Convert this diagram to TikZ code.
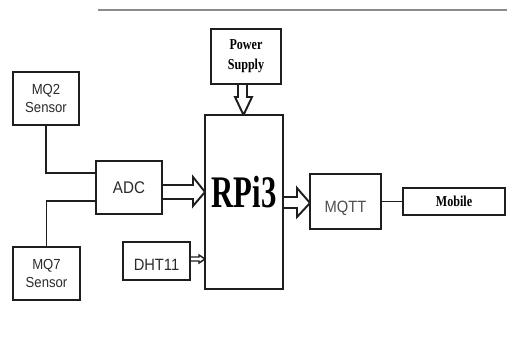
\documentclass[tikz,border=0pt]{standalone}
\usepackage{fontspec}
\setmainfont{Liberation Serif}
\newfontfamily\sansnarrow[FakeStretch=0.9]{Liberation Sans}
\newfontfamily\serifnarrow[FakeStretch=0.8]{Liberation Serif}
\newfontfamily\serifrpi[FakeStretch=0.68]{Liberation Serif}
\usetikzlibrary{calc}
\definecolor{boxline}{HTML}{1E1E1E}
\definecolor{labeltext}{HTML}{2B2B2B}
\definecolor{softtext}{HTML}{4E4E4E}
\definecolor{ruleline}{HTML}{8C8C8C}

\begin{document}
\begin{tikzpicture}[x=0.02cm, y=-0.02cm,
  blk/.style={draw=boxline, line width=1.1pt, fill=white, inner sep=0pt, text=labeltext, align=center},
  sensorbox/.style={blk, minimum width=1.33cm, minimum height=1.06cm, font=\sansnarrow\fontsize{8.3}{10.2}\selectfont},
  hollow/.style={draw=boxline, line width=1.1pt, fill=white, line join=miter},
  wire/.style={draw=boxline, line width=1.1pt}]
  \useasboundingbox (0,0) rectangle (507,342);

  % --- rule at the top ---
  \draw[ruleline, line width=0.6pt] (98,10) -- (507,10);

  % --- hollow arrows (under the boxes) ---
  \coordinate (adcout) at (162,187.5);
  \coordinate (pwrout) at (246,84);
  \coordinate (dhtout) at (190,261);
  \coordinate (rpiout) at (283,202);
  \draw[hollow] (adcout) ++(0,-2.5) -- ++(31,0) -- ++(0,-8) -- ++(12,15) -- ++(-12,14) -- ++(0,-7) -- ++(-31,0);
  \draw[hollow] (pwrout) ++(-8,0) -- ++(0,13) -- ++(-3,0) -- ++(8.5,18) -- ++(8.5,-18) -- ++(-5,0) -- ++(0,-13);
  \draw[hollow, line width=0.8pt] (dhtout) ++(0,-4) -- ++(9,0) -- ++(0,-2) -- ++(6,4) -- ++(-6,4) -- ++(0,-2) -- ++(-9,0);
  \draw[hollow] (rpiout) ++(0,-5) -- ++(14,0) -- ++(0,-9) -- ++(13,15) -- ++(-13,14) -- ++(0,-9) -- ++(-14,0);

  % --- sensors and converter ---
  \node[sensorbox] (mq2) at (46,98.5) {MQ2\\Sensor};
  \node[sensorbox] (mq7) at (46.5,273.5) {MQ7\\Sensor};
  \node[blk, minimum width=1.32cm, minimum height=1.06cm, font=\sansnarrow\fontsize{9.6}{11}\selectfont] (adc) at (129,187.5) {ADC};
  \node[blk, minimum width=1.34cm, minimum height=0.76cm, text height=0.36cm, text depth=0pt,
        font=\sansnarrow\fontsize{9.3}{11}\selectfont] (dht) at (156.5,261) {DHT11};

  % --- controller ---
  \node[blk, minimum width=1.40cm, minimum height=1.10cm, text=black,
        font=\serifnarrow\bfseries\fontsize{8.6}{11.3}\selectfont] (power) at (246,56.5) {Power\\Supply};
  \node[blk, minimum width=1.56cm, minimum height=3.48cm, text=black, text height=0.6cm, text depth=0.4cm,
        font=\serifrpi\bfseries\fontsize{25.7}{30}\selectfont] (rpi) at (244,202) {RPi3};

  % --- output side ---
  \node[blk, minimum width=1.42cm, minimum height=1.10cm, text=softtext, text height=0.42cm, text depth=0pt,
        font=\sansnarrow\fontsize{9.3}{11}\selectfont] (mqtt) at (345.5,201.5) {MQTT};
  \node[blk, minimum width=2.04cm, minimum height=0.54cm, text=black,
        font=\serifnarrow\bfseries\fontsize{8.6}{10}\selectfont] (mobile) at (454,201.5) {Mobile};

  % --- wires ---
  \draw[wire] (mq2.south) |- ($(adc.north west)!0.23!(adc.south west)$);
  \draw[wire] (mq7.north) |- ($(adc.north west)!0.75!(adc.south west)$);
  \draw[wire] (mqtt.east) -- (mobile.west);
\end{tikzpicture}
\end{document}
